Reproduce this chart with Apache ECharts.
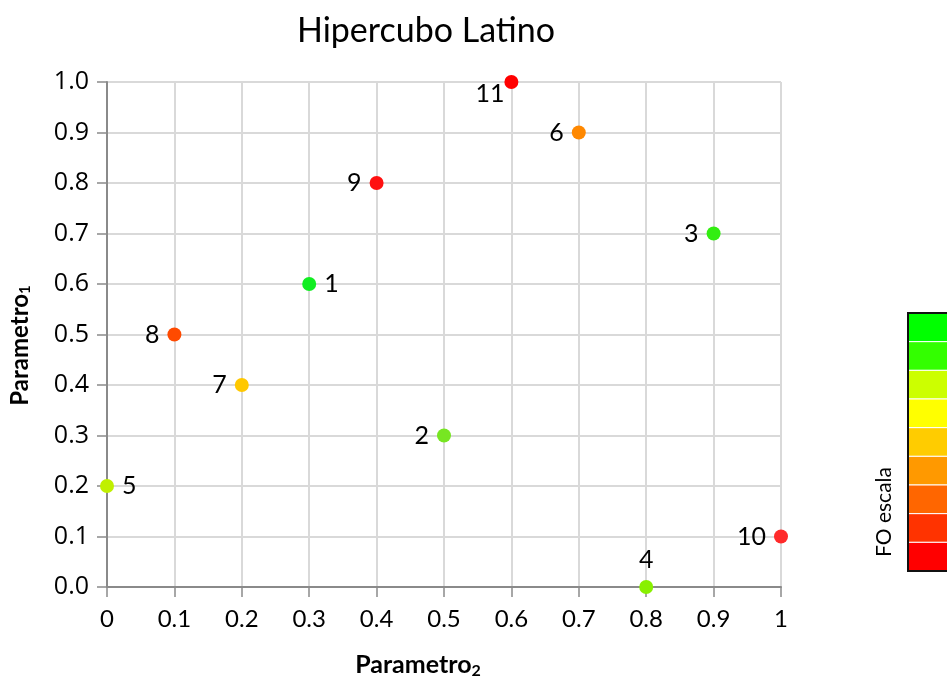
<!DOCTYPE html>
<html>
<head>
<meta charset="utf-8">
<script src="https://cdn.jsdelivr.net/npm/echarts@6/dist/echarts.min.js"></script>
<style>
html, body { margin: 0; padding: 0; background: #fff; }
#chart { width: 947px; height: 684px; }
</style>
</head>
<body>
<div id="chart"></div>
<script>
// point ids and coordinates (Parametro2 on x, Parametro1 on y)
var pointIds = ['1', '2', '3', '4', '5', '6', '7', '8', '9', '10', '11'];
var param2 = [0.3, 0.5, 0.9, 0.8, 0.0, 0.7, 0.2, 0.1, 0.4, 1.0, 0.6];
var param1 = [0.6, 0.3, 0.7, 0.0, 0.2, 0.9, 0.4, 0.5, 0.8, 0.1, 1.0];
var pointColors = ['#11ee22', '#77e622', '#33ee11', '#88f000', '#c0f000', '#ff8800', '#ffc800', '#ff4a00', '#ff1010', '#ff2a2a', '#ff0000'];
var labelSide = ['right', 'left', 'left', 'top', 'right', 'left', 'left', 'left', 'left', 'left', 'left'];

// colour scale (top to bottom)
var scaleColors = ['#00ff00', '#33ff00', '#ccff00', '#ffff00', '#ffcc00', '#ff9900', '#ff6600', '#ff3300', '#ff0000'];

var fontMain = 'Lato, "Open Sans", sans-serif';

var data = [];
for (var i = 0; i < pointIds.length; i++) {
    var lbl = { show: true, position: labelSide[i], distance: 8 };
    if (pointIds[i] === '11') {
        lbl.distance = 0;
        lbl.offset = [0, 12];
    }
    data.push({
        value: [param2[i], param1[i]],
        name: pointIds[i],
        itemStyle: { color: pointColors[i] },
        label: lbl
    });
}

// legend bar drawn as graphic
var barX = 908, barY = 313, barW = 60, barH = 258;
var bandH = barH / scaleColors.length;
var graphics = [];
for (var k = 0; k < scaleColors.length; k++) {
    graphics.push({
        type: 'rect',
        shape: { x: barX, y: barY + k * bandH, width: barW, height: bandH },
        style: { fill: scaleColors[k], stroke: '#fff', lineWidth: 1 },
        z: 10
    });
}
graphics.push({
    type: 'rect',
    shape: { x: barX, y: barY, width: barW, height: barH },
    style: { fill: 'none', stroke: '#111', lineWidth: 2 },
    z: 11
});
graphics.push({
    type: 'text',
    x: 884,
    y: 512,
    rotation: Math.PI / 2,
    style: {
        text: 'FO escala',
        font: '21px ' + fontMain,
        fill: '#000',
        align: 'center',
        verticalAlign: 'middle'
    },
    z: 10
});

var option = {
    backgroundColor: '#fff',
    title: {
        text: 'Hipercubo Latino',
        left: 421,
        textAlign: 'center',
        top: 9,
        textStyle: { fontFamily: fontMain, fontSize: 34, fontWeight: 'normal', color: '#000' }
    },
    grid: { left: 107, right: 166, top: 82, bottom: 96 },
    xAxis: {
        type: 'value',
        min: 0,
        max: 1,
        interval: 0.1,
        name: '{b|Parametro}{s|2}',
        nameLocation: 'middle',
        nameGap: 64,
        nameTextStyle: {
            padding: [0, 52, 0, 0],
            rich: {
                b: { fontFamily: fontMain, fontSize: 25, fontWeight: 'bold', color: '#000' },
                s: { fontFamily: fontMain, fontSize: 16, fontWeight: 'bold', color: '#000', verticalAlign: 'bottom', padding: [12, 0, 0, 0] }
            }
        },
        axisLine: { show: true, lineStyle: { color: '#8a8a8a', width: 2 } },
        axisTick: { show: true, length: 10, lineStyle: { color: '#8a8a8a', width: 1.5 } },
        axisLabel: {
            fontFamily: fontMain, fontSize: 24, color: '#000', margin: 20,
            formatter: function (v) {
                if (v === 0) return '0';
                if (v === 1) return '1';
                return v.toFixed(1);
            }
        },
        splitLine: { show: true, lineStyle: { color: '#d9d9d9', width: 2 } }
    },
    yAxis: {
        type: 'value',
        min: 0,
        max: 1,
        interval: 0.1,
        name: '{b|Parametro}{s|1}',
        nameLocation: 'middle',
        nameGap: 74,
        nameTextStyle: {
            padding: [0, 22, 0, 0],
            rich: {
                b: { fontFamily: fontMain, fontSize: 24, fontWeight: 'bold', color: '#000' },
                s: { fontFamily: fontMain, fontSize: 15, fontWeight: 'bold', color: '#000', verticalAlign: 'bottom', padding: [11, 0, 0, 0] }
            }
        },
        axisLine: { show: true, lineStyle: { color: '#8a8a8a', width: 2 } },
        axisTick: { show: true, length: 10, lineStyle: { color: '#8a8a8a', width: 1.5 } },
        axisLabel: {
            fontFamily: '"Open Sans", sans-serif', fontSize: 25, color: '#000', margin: 18,
            formatter: function (v) { return v.toFixed(1); }
        },
        splitLine: { show: true, lineStyle: { color: '#d9d9d9', width: 2 } }
    },
    series: [
        {
            type: 'scatter',
            symbolSize: 14,
            itemStyle: { opacity: 1 },
            data: data,
            label: {
                formatter: '{b}',
                fontFamily: fontMain,
                fontSize: 25,
                color: '#000'
            },
            z: 5
        }
    ],
    graphic: graphics
};

var chart = echarts.init(document.getElementById('chart'));
chart.setOption(option);
</script>
</body>
</html>
